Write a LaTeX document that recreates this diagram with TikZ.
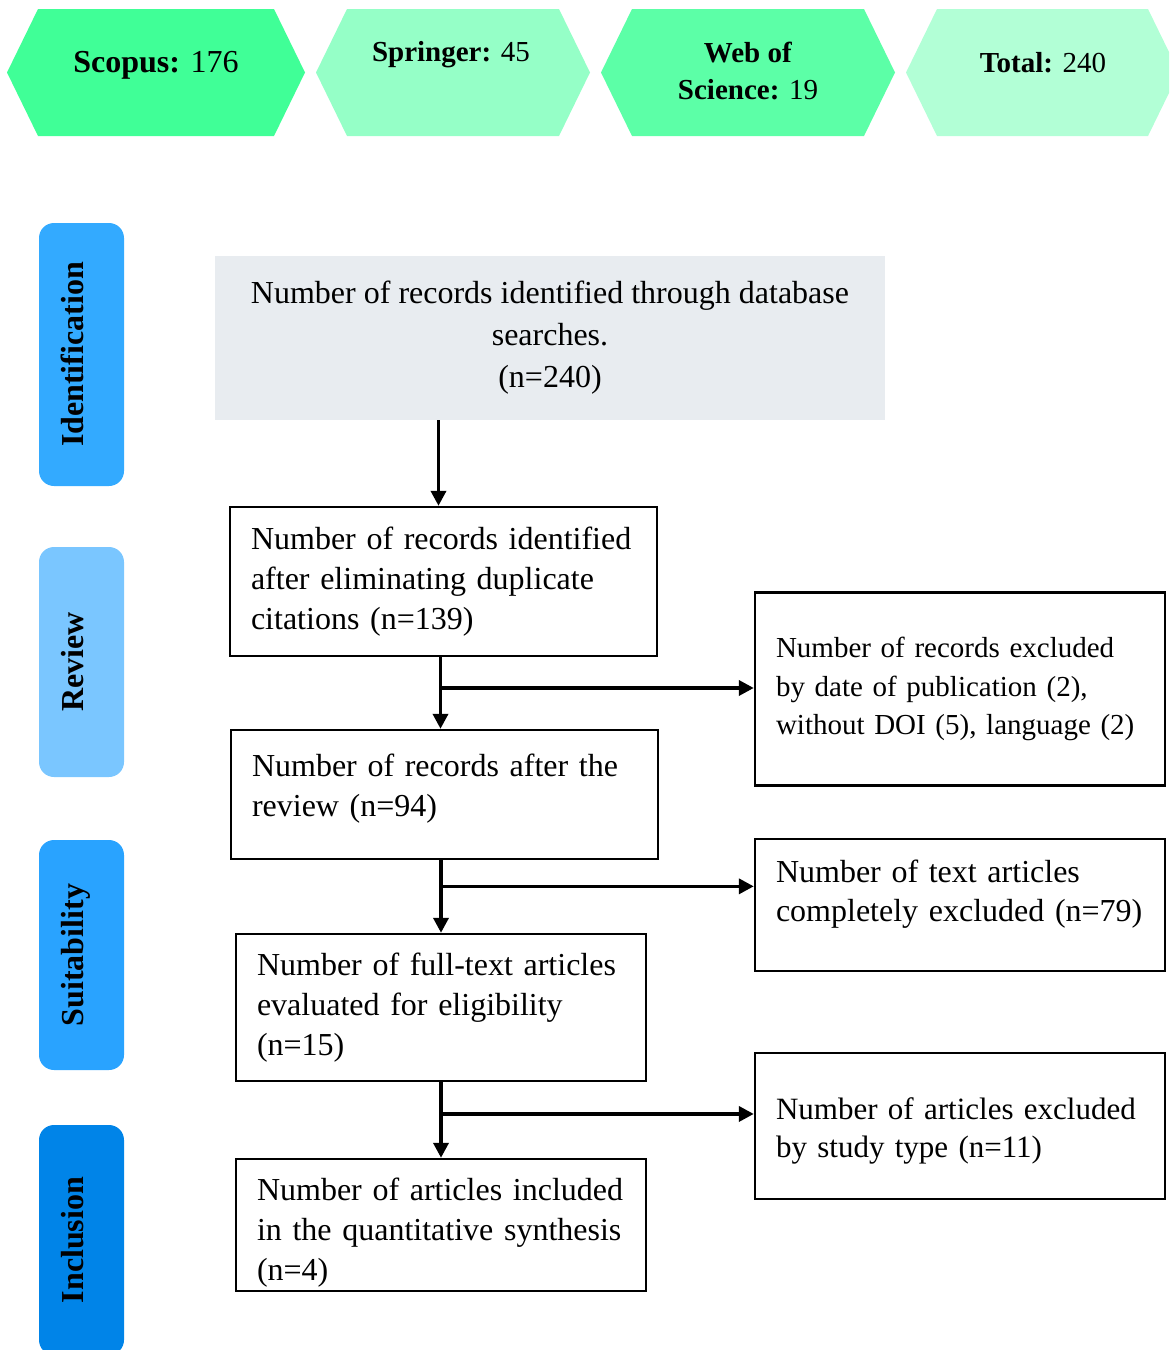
\documentclass[tikz,border=0pt]{standalone}
\usepackage{fontspec}
\setmainfont{Liberation Serif}
\usetikzlibrary{arrows.meta,calc}

\definecolor{scopusgreen}{RGB}{64,255,151}
\definecolor{springergreen}{RGB}{149,255,199}
\definecolor{wosgreen}{RGB}{92,255,167}
\definecolor{totalgreen}{RGB}{178,255,214}
\definecolor{identblue}{RGB}{51,170,255}
\definecolor{reviewblue}{RGB}{122,198,255}
\definecolor{suitblue}{RGB}{41,163,255}
\definecolor{inclblue}{RGB}{0,132,232}
\definecolor{boxgray}{RGB}{232,236,240}

\begin{document}
\hyphenpenalty=10000
\exhyphenpenalty=10000
\begin{tikzpicture}[x=0.5pt,y=-0.5pt,>={Triangle[length=7.5pt,width=7.5pt]},
	stepbox/.style={draw, line width=1.2pt, align=left, inner xsep=10.5pt, inner ysep=0pt,
		font=\fontsize{16}{20}\selectfont},
	exbox/.style={stepbox, font=\fontsize{16}{19.5}\selectfont},
	phase/.style={rounded corners=7.5pt, rotate=90, minimum height=42.5pt, inner sep=0pt,
		text height=11pt, text depth=9pt, font=\fontsize{16}{19}\selectfont\bfseries},
	dbtext/.style={align=center, inner sep=0pt, font=\fontsize{14.5}{18.5}\selectfont},
	flow/.style={->, line width=1.8pt}]
	
	\clip (0,0) rectangle (1169,1350);
	
	%----------------------------
	% Top: databases
	%----------------------------
	\foreach \xa/\xb/\col in {7/305/scopusgreen, 316/590/springergreen,
		601/895/wosgreen, 906/1179/totalgreen}
	\fill[\col] (\xa,72.5) -- (\xa+31,9) -- (\xb-31,9) -- (\xb,72.5)
	-- (\xb-31,136) -- (\xa+31,136) -- cycle;
	
	\node[dbtext, font=\fontsize{16}{18.5}\selectfont] (scopus) at (156,65) {\textbf{Scopus:} 176};
	\node[dbtext] (springer) at (451,55) {\textbf{Springer:} 45};
	\node[dbtext] (wos) at (748,71) {\textbf{Web of}\\\textbf{Science:} 19};
	\node[dbtext] (total) at (1043,63) {\textbf{Total:} 240};
	
	%----------------------------
	% Left: phases
	%----------------------------
	\node[phase, fill=identblue, minimum width=131.5pt] (identification) at (81.5,354.5) {Identification};
	\node[phase, fill=reviewblue, minimum width=115pt] (review) at (81.5,662) {Review};
	\node[phase, fill=suitblue, minimum width=115pt] (suitability) at (81.5,955) {Suitability};
	\node[phase, fill=inclblue, minimum width=115pt] (inclusion) at (81.5,1240) {Inclusion};
	
	%----------------------------
	% Middle: records
	%----------------------------
	\node[fill=boxgray, align=center, minimum width=335pt, minimum height=82pt, inner sep=0pt,
	font=\fontsize{16}{21}\selectfont] (searched) at (550,338)
	{Number of records identified through database\\searches.\\(n=240)};
	
	\node[stepbox, text width=192.5pt, minimum height=74.5pt] (dedup) at (443.5,581.5)
	{Number of records identified\\after eliminating duplicate\\citations (n=139)};
	
	\node[stepbox, text width=192.5pt, minimum height=64.5pt, text depth=29pt] (reviewed) at (444.5,794.5)
	{Number of records after the\\review (n=94)};
	
	\node[stepbox, text width=184pt, minimum height=73.5pt] (fulltext) at (441,1007.5)
	{Number of full-text articles\\evaluated for eligibility\\(n=15)};
	
	\node[stepbox, text width=184pt, minimum height=66pt, text depth=36pt] (included) at (441,1225)
	{Number of articles included\\in the quantitative synthesis\\(n=4)};
	
	%----------------------------
	% Right: exclusions
	%----------------------------
	\node[exbox, text width=184pt, minimum height=96.5pt, font=\fontsize{14.5}{19.3}\selectfont] (exdate) at (960,689)
	{Number of records excluded\\by date of publication (2),\\without DOI (5), language (2)};
	
	\node[exbox, text width=184pt, minimum height=66pt, text depth=33.5pt] (extext) at (960,905)
	{Number of text articles\\completely excluded (n=79)};
	
	\node[exbox, text width=184pt, minimum height=73pt, text depth=17pt,
	font=\fontsize{15.5}{19}\selectfont] (extype) at (960,1126)
	{Number of articles excluded\\by study type (n=11)};
	
	%----------------------------
	% Arrows
	%----------------------------
	\coordinate (split1) at ($(dedup.south)!0.43!(reviewed.north)$);
	\coordinate (split2) at ($(fulltext.north |- reviewed.south)!0.36!(fulltext.north)$);
	\coordinate (split3) at ($(fulltext.south)!0.42!(included.north)$);
	
	\draw[flow] ([xshift=-2.5pt]dedup.north |- searched.south) -- ([xshift=-2.5pt]dedup.north);
	\draw[flow] ([xshift=-1.5pt]dedup.south) -- ([xshift=-1.5pt]reviewed.north -| dedup.south);
	\draw[flow] (fulltext.north |- reviewed.south) -- (fulltext.north);
	\draw[flow] (fulltext.south) -- (included.north);
	
	\draw[flow] (split1 -| dedup.south) ++(-1.5pt,0) -- (split1 -| exdate.west);
	\draw[flow] (split2) -- (split2 -| extext.west);
	\draw[flow] (split3) -- (split3 -| extype.west);
	
\end{tikzpicture}
\end{document}
